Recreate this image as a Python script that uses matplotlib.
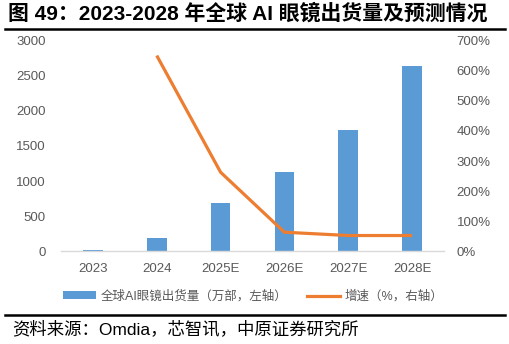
import matplotlib
matplotlib.use('Agg')
import matplotlib.pyplot as plt
import numpy as np
from matplotlib.lines import Line2D

plt.rcParams['font.family'] = ['Liberation Sans', 'Noto Sans CJK SC', 'DejaVu Sans']

years = ['2023', '2024', '2025E', '2026E', '2027E', '2028E']
shipments = [25, 190, 690, 1130, 1725, 2640]          # 万部
growth = [np.nan, 650, 263, 64, 53, 53]                # %

BAR_COLOR = '#5B9BD5'
LINE_COLOR = '#ED7D31'
TICK_COLOR = '#595959'

fig = plt.figure(figsize=(5.1, 3.44), dpi=100)
ax = fig.add_axes([0.1196, 0.2689, 0.7510, 0.6134])
ax2 = ax.twinx()

x = np.arange(len(years))
ax.bar(x, shipments, width=0.31, color=BAR_COLOR, label='全球AI眼镜出货量（万部，左轴）', zorder=2)
ax2.plot(x, growth, color=LINE_COLOR, linewidth=2.3, label='增速（%，右轴）', solid_capstyle='butt')

ax.set_xlim(-0.5, len(years) - 0.5)
ax.set_ylim(0, 3000)
ax.set_yticks(np.arange(0, 3001, 500))
ax2.set_ylim(0, 700)
ax2.set_yticks(np.arange(0, 701, 100))
ax2.set_yticklabels([f'{v}%' for v in range(0, 701, 100)])
ax.set_xticks(x)
ax.set_xticklabels(years)

for a in (ax, ax2):
    for s in a.spines.values():
        s.set_visible(False)
    a.tick_params(length=0, colors=TICK_COLOR, labelsize=9.5)
ax.spines['bottom'].set_visible(True)
ax.spines['bottom'].set_color('#D9D9D9')
ax.spines['bottom'].set_linewidth(1.0)
ax.tick_params(axis='y', pad=11)
ax.tick_params(axis='x', pad=8)
ax2.tick_params(axis='y', pad=9)

handles = [ax.patches[0], Line2D([], [], color=LINE_COLOR, linewidth=2.3)]
labels = ['全球AI眼镜出货量（万部，左轴）', '增速（%，右轴）']
fig.legend(handles, labels, loc='center', bbox_to_anchor=(0.497, 0.138), ncol=2,
           frameon=False, fontsize=9, handlelength=2.6, handleheight=0.6,
           columnspacing=1.6, handletextpad=0.4, labelcolor=TICK_COLOR)

# title and source with rules
fig.text(0.016, 0.962, '图 49：2023-2028 年全球 AI 眼镜出货量及预测情况',
         fontsize=15, fontweight='bold', va='center', ha='left')
fig.add_artist(Line2D([0.01, 0.99], [0.915, 0.915], color='black', linewidth=1.8))
fig.add_artist(Line2D([0.01, 0.99], [0.083, 0.083], color='black', linewidth=1.8))
fig.text(0.024, 0.045, '资料来源：Omdia，芯智讯，中原证券研究所',
         fontsize=12.5, va='center', ha='left')

fig.savefig('out.png', dpi=100)
